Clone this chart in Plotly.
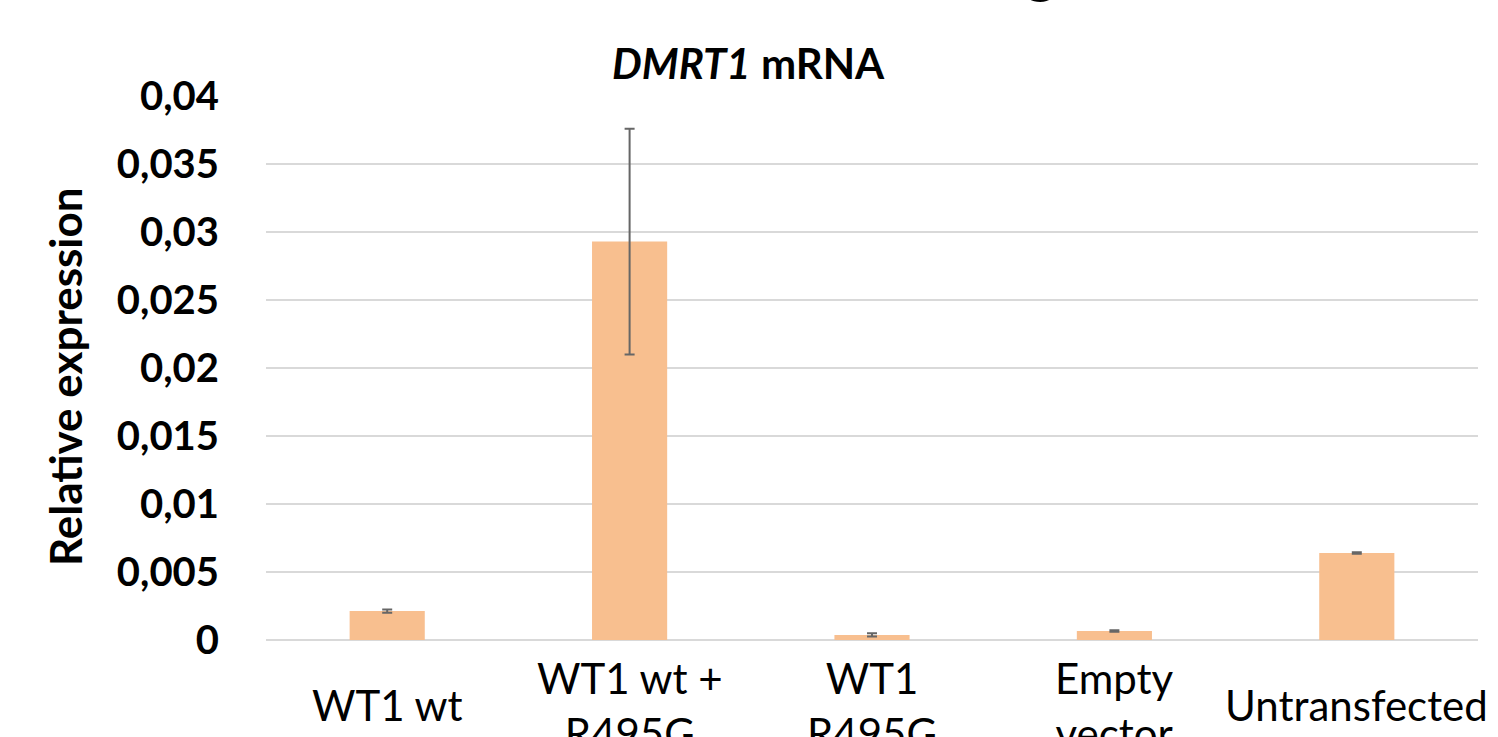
import plotly.graph_objects as go

categories = ["WT1 wt", "WT1 wt +<br>R495G", "WT1<br>R495G", "Empty<br>vector", "Untransfected"]
values = [0.00213, 0.0293, 0.00037, 0.00066, 0.0064]
errors = [0.00012, 0.0083, 0.00012, 0.00006, 0.00006]
tick_vals = [0, 0.005, 0.01, 0.015, 0.02, 0.025, 0.03, 0.035, 0.04]
tick_text = ["0", "0,005", "0,01", "0,015", "0,02", "0,025", "0,03", "0,035", "0,04"]

W, H = 1498, 737
L, R, T, B = 266, 20, 96, 97
PW, PH = W - L - R, H - T - B


def px_x(x):
    return (x - L) / PW


def px_y(y):
    return (H - B - y) / PH


fig = go.Figure()
fig.add_trace(go.Bar(
    x=list(range(len(categories))), y=values,
    marker=dict(color="#F8BF8F", line=dict(width=0)),
    width=0.31,
    error_y=dict(type="data", array=errors, visible=True,
                 color="#666666", thickness=2, width=5),
))

FONT = "Lato, 'Open Sans', sans-serif"
annotations = []
for i, c in enumerate(categories):
    annotations.append(dict(
        x=i, xref="x", y=px_y(705), yref="paper", text=c, showarrow=False,
        xanchor="center", yanchor="middle",
        font=dict(family=FONT, size=42, color="#000000"),
    ))
annotations.append(dict(
    x=px_x(748), xref="paper", y=px_y(63), yref="paper",
    text="<b><i>DMRT1</i> mRNA</b>", showarrow=False, xanchor="center", yanchor="middle",
    font=dict(family=FONT, size=42, color="#000000"),
))
annotations.append(dict(
    x=px_x(65), xref="paper", y=px_y(377), yref="paper",
    text="<b>Relative expression</b>", showarrow=False, textangle=-90,
    xanchor="center", yanchor="middle",
    font=dict(family=FONT, size=44, color="#000000"),
))
# fragment of a larger heading above, cut off by the top edge
annotations.append(dict(
    x=px_x(1041), xref="paper", y=px_y(6), yref="paper",
    text="<b>g</b>", showarrow=False, xanchor="center", yanchor="bottom",
    font=dict(family=FONT, size=60, color="#000000"),
))

fig.update_layout(
    width=W, height=H,
    margin=dict(l=L, r=R, t=T, b=B, pad=0),
    paper_bgcolor="white", plot_bgcolor="white",
    showlegend=False,
    annotations=annotations,
    xaxis=dict(range=[-0.5, len(categories) - 0.5], showticklabels=False,
               showgrid=False, zeroline=False, showline=False, ticks=""),
    yaxis=dict(range=[0, 0.04], tickvals=tick_vals, ticktext=tick_text,
               showgrid=True, gridcolor="#D9D9D9", gridwidth=2,
               zeroline=True, zerolinecolor="#D9D9D9", zerolinewidth=2,
               showline=False, ticks="", ticklabelstandoff=46,
               tickfont=dict(family=FONT, size=40, color="#000000", weight="bold")),
)

fig.write_html("out.html", config={"displayModeBar": False},
               post_script="document.body.style.margin='0';document.body.style.overflow='hidden';")
